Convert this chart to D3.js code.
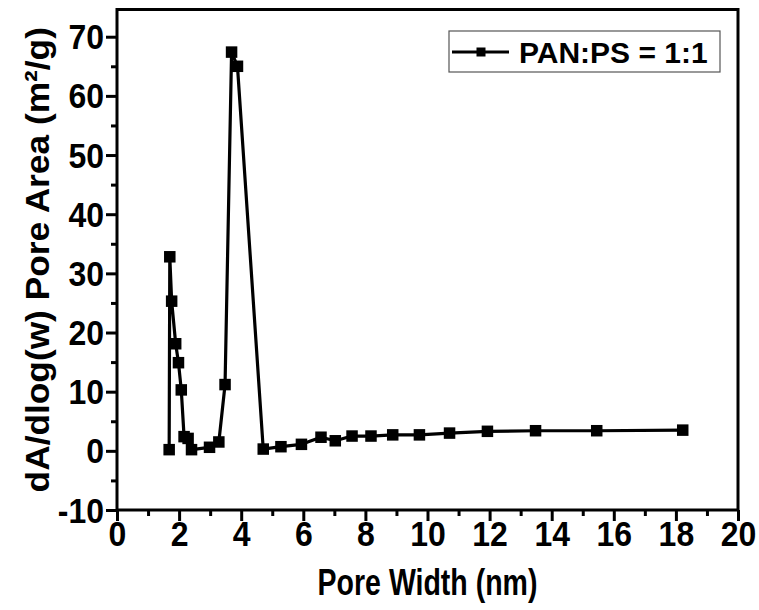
<!DOCTYPE html>
<html>
<head>
<meta charset="utf-8">
<script src="https://cdn.jsdelivr.net/npm/d3@7"></script>
<style>
  body { margin: 0; background: #fff; }
  text { font-family: "Liberation Sans", Arial, sans-serif; font-weight: bold; fill: #000; }
</style>
</head>
<body>
<div id="chart"></div>
<script>
// data
var poreWidth = [1.68, 1.70, 1.76, 1.89, 1.98, 2.07, 2.16, 2.29, 2.40, 2.98, 3.28, 3.48, 3.69, 3.88, 4.71,
                 5.28, 5.94, 6.57, 7.03, 7.57, 8.18, 8.88, 9.74, 10.71, 11.93, 13.48, 15.45, 18.22];
var poreArea = [0.2, 32.8, 25.3, 18.1, 14.9, 10.3, 2.4, 2.1, 0.2, 0.6, 1.5, 11.2, 67.4, 65.0, 0.3,
                0.7, 1.1, 2.3, 1.7, 2.5, 2.5, 2.7, 2.7, 3.0, 3.3, 3.4, 3.4, 3.5];
var xTicks = [0, 2, 4, 6, 8, 10, 12, 14, 16, 18, 20];
var yTicks = [-10, 0, 10, 20, 30, 40, 50, 60, 70];
var seriesName = 'PAN:PS = 1:1';

(function () {
  var W = 759, H = 610;
  var mLeft = 117, mRight = 738, mTop = 9.5, mBottom = 510;

  var svg = d3.select('#chart').append('svg')
    .attr('width', W)
    .attr('height', H);

  var x = d3.scaleLinear().domain([0, 20]).range([mLeft, mRight]);
  var y = d3.scaleLinear().domain([-10, 74.6]).range([mBottom, mTop]);

  var xMinor = xTicks.slice(0, -1).map(function (d) { return d + 1; });
  var yMinor = yTicks.slice(0, -1).map(function (d) { return d + 5; });
  var plain = function (d) { return String(d); };  // hyphen minus like the original

  function thick(g) {
    g.select('.domain').remove();
    g.selectAll('line').attr('stroke-width', 3);
  }

  // minor ticks
  svg.append('g')
    .attr('transform', 'translate(0,' + mBottom + ')')
    .call(d3.axisBottom(x).tickValues(xMinor).tickSize(6).tickSizeOuter(0).tickFormat(''))
    .call(thick);

  svg.append('g')
    .attr('transform', 'translate(' + mLeft + ',0)')
    .call(d3.axisLeft(y).tickValues(yMinor).tickSize(6).tickSizeOuter(0).tickFormat(''))
    .call(thick);

  // major ticks + labels
  var xAxis = svg.append('g')
    .attr('transform', 'translate(0,' + mBottom + ')')
    .call(d3.axisBottom(x).tickValues(xTicks).tickSize(11).tickSizeOuter(0).tickFormat(plain))
    .call(thick);
  xAxis.selectAll('.tick text')
    .attr('fill', '#000')
    .attr('y', 0).attr('dy', 0)
    .attr('transform', 'translate(0,36) scale(1,1.12)')
    .style('font-size', '32px')
    .style('font-family', '"Liberation Sans", Arial, sans-serif')
    .style('font-weight', 'bold');

  var yAxis = svg.append('g')
    .attr('transform', 'translate(' + mLeft + ',0)')
    .call(d3.axisLeft(y).tickValues(yTicks).tickSize(11).tickSizeOuter(0).tickFormat(plain))
    .call(thick);
  yAxis.selectAll('.tick text')
    .attr('fill', '#000')
    .attr('x', 0).attr('dy', 0)
    .attr('transform', 'translate(-13,12) scale(1,1.12)')
    .style('font-size', '32px')
    .style('font-family', '"Liberation Sans", Arial, sans-serif')
    .style('font-weight', 'bold');

  // frame
  svg.append('rect')
    .attr('x', mLeft).attr('y', mTop)
    .attr('width', mRight - mLeft).attr('height', mBottom - mTop)
    .attr('fill', 'none').attr('stroke', '#000').attr('stroke-width', 3);

  // series
  var pts = poreWidth.map(function (d, i) { return [d, poreArea[i]]; });
  var line = d3.line().x(function (d) { return x(d[0]); }).y(function (d) { return y(d[1]); });

  svg.append('path')
    .datum(pts)
    .attr('d', line)
    .attr('fill', 'none')
    .attr('stroke', '#000')
    .attr('stroke-width', 3.2)
    .attr('stroke-linejoin', 'round');

  var ms = 11.5;
  svg.selectAll('.pt')
    .data(pts)
    .enter()
    .append('rect')
    .attr('class', 'pt')
    .attr('x', function (d) { return x(d[0]) - ms / 2; })
    .attr('y', function (d) { return y(d[1]) - ms / 2; })
    .attr('width', ms)
    .attr('height', ms)
    .attr('fill', '#000');

  // axis titles
  svg.append('text')
    .attr('transform', 'translate(' + (mLeft + mRight) / 2 + ',595) scale(1,1.3)')
    .attr('text-anchor', 'middle')
    .style('font-size', '28.5px')
    .text('Pore Width (nm)');

  svg.append('text')
    .attr('transform', 'translate(49,' + (mTop + mBottom) / 2 + ') rotate(-90) scale(1.07,1)')
    .attr('text-anchor', 'middle')
    .style('font-size', '33px')
    .text('dA/dlog(w) Pore Area (m²/g)');

  // legend
  var lg = svg.append('g');
  lg.append('rect')
    .attr('x', 449).attr('y', 31)
    .attr('width', 271).attr('height', 41)
    .attr('fill', '#fff').attr('stroke', '#555').attr('stroke-width', 1.2);
  lg.append('line')
    .attr('x1', 452).attr('x2', 509).attr('y1', 52).attr('y2', 52)
    .attr('stroke', '#000').attr('stroke-width', 3);
  lg.append('rect')
    .attr('x', 481 - 4.5).attr('y', 52 - 4.5)
    .attr('width', 9).attr('height', 9)
    .attr('fill', '#000');
  lg.append('text')
    .attr('x', 519).attr('y', 63)
    .style('font-size', '30px')
    .text(seriesName);
})();
</script>
</body>
</html>
